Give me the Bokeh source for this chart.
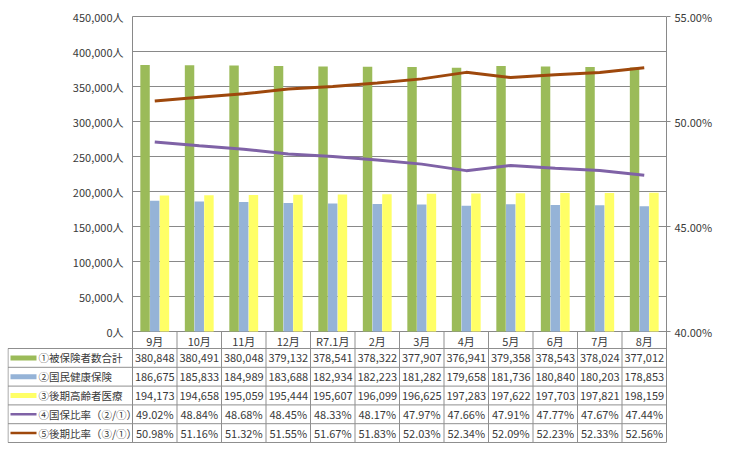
from bokeh.plotting import figure
from bokeh.models import Range1d, LinearAxis, FixedTicker, CustomJSTickFormatter, ColumnDataSource
from bokeh.transform import dodge
from bokeh.core.properties import value
from bokeh.embed import file_html
from bokeh.resources import INLINE

# ---------------- data ----------------
categories = ["9月", "10月", "11月", "12月", "R7.1月", "2月", "3月", "4月", "5月", "6月", "7月", "8月"]
total = [380848, 380491, 380048, 379132, 378541, 378322, 377907, 376941, 379358, 378543, 378024, 377012]
kokuho = [186675, 185833, 184989, 183688, 182934, 182223, 181282, 179658, 181736, 180840, 180203, 178853]
kouki = [194173, 194658, 195059, 195444, 195607, 196099, 196625, 197283, 197622, 197703, 197821, 198159]
kokuho_ratio = [49.02, 48.84, 48.68, 48.45, 48.33, 48.17, 47.97, 47.66, 47.91, 47.77, 47.67, 47.44]
kouki_ratio = [50.98, 51.16, 51.32, 51.55, 51.67, 51.83, 52.03, 52.34, 52.09, 52.23, 52.33, 52.56]
series_names = ["①被保険者数合計", "②国民健康保険", "③後期高齢者医療", "④国保比率（②/①）", "⑤後期比率（③/①）"]
left_ticks = [0, 50000, 100000, 150000, 200000, 250000, 300000, 350000, 400000, 450000]
right_ticks = [40, 45, 50, 55]
Y_MAX = 450000
P_MIN, P_MAX = 40, 55

# ---------------- style / layout ----------------
GREEN = "#9BBB59"
BLUE = "#95B3D7"
YELLOW = "#FFFF66"
PURPLE = "#7F62A6"
BROWN = "#9E480C"
GRID = "#898989"
TXT = "#3a3a3a"
FONT_NAME = "Noto Sans CJK JP"
FONT = value(FONT_NAME)

W, H = 722, 446
LB = 7             # border left of the table
TOP = 6            # border above the frame
EXTRA_TOP = 10     # px of frame above the 450,000 line (room for tick label)
RB = 56            # border right of the plot area (right axis)
LEG_W = 125        # width of the table's legend column
N = len(categories)
PLOT_W = W - LB - LEG_W - RB     # 534 px for the 12 categories
CW = PLOT_W / N                  # px per category
PLOT_H = 315                     # px of the chart area
TABLE_H = 111                    # px of the data table below
EXTRA_BOT = 2
FRAME_H = EXTRA_TOP + PLOT_H + TABLE_H + EXTRA_BOT
PX = Y_MAX / PLOT_H              # value per pixel on left scale
PPX = (P_MAX - P_MIN) / PLOT_H   # value per pixel on right scale


def below(px):
    """y value (left scale) that lies px pixels under the zero line"""
    return -px * PX


x_left = -LEG_W / CW
p = figure(width=W, height=H,
           x_range=Range1d(x_left, N),
           y_range=Range1d(below(TABLE_H + EXTRA_BOT), Y_MAX + EXTRA_TOP * PX),
           output_backend="svg", toolbar_location=None,
           x_axis_location=None, y_axis_location=None,
           min_border_left=LB, min_border_right=RB, min_border_top=TOP,
           min_border_bottom=H - TOP - FRAME_H)
p.grid.visible = False
p.outline_line_color = None
p.background_fill_color = "white"
p.border_fill_color = "white"
p.extra_y_ranges = {"pct": Range1d(P_MIN - (TABLE_H + EXTRA_BOT) * PPX, P_MAX + EXTRA_TOP * PPX)}

# right axis (percent); its line also forms the table's right border
ra = LinearAxis(y_range_name="pct", ticker=FixedTicker(ticks=right_ticks),
                formatter=CustomJSTickFormatter(code="return tick.toFixed(2) + '%';"),
                bounds=(P_MIN - TABLE_H * PPX, P_MAX))
ra.axis_line_color = GRID
ra.major_tick_line_color = GRID
ra.major_tick_out = 4
ra.major_tick_in = 0
ra.minor_tick_line_color = None
ra.major_label_standoff = 4
ra.major_label_text_font = FONT_NAME
ra.major_label_text_font_size = "11px"
ra.major_label_text_color = TXT
p.add_layout(ra, "right")

# horizontal gridlines + left axis line
p.segment(x0=[0] * len(left_ticks), x1=[N] * len(left_ticks), y0=left_ticks, y1=left_ticks,
          line_color=GRID, line_width=1)
p.segment(x0=[0], x1=[0], y0=[below(TABLE_H)], y1=[Y_MAX], line_color=GRID, line_width=1)

# left tick labels
left_labels = [f"{v:,}人" for v in left_ticks]
p.text(x=[-9 / CW] * len(left_ticks), y=left_ticks, text=left_labels,
       text_align="right", text_baseline="middle",
       text_font=FONT, text_font_size="11px", text_color=TXT)

# bars and lines
xs = [i + 0.5 for i in range(N)]
src = ColumnDataSource(dict(x=xs, total=total, kokuho=kokuho, kouki=kouki,
                            r1=kokuho_ratio, r2=kouki_ratio))
BW = 0.212
OFF = 0.218
p.vbar(x=dodge("x", -OFF), top="total", width=BW, fill_color=GREEN, line_color=None, source=src)
p.vbar(x=dodge("x", 0), top="kokuho", width=BW, fill_color=BLUE, line_color=None, source=src)
p.vbar(x=dodge("x", OFF), top="kouki", width=BW, fill_color=YELLOW, line_color=None, source=src)
p.line(x="x", y="r1", y_range_name="pct", line_width=3, line_color=PURPLE, source=src)
p.line(x="x", y="r2", y_range_name="pct", line_width=3, line_color=BROWN, source=src)

# ---------------- data table ----------------
TABLE_GRID = "#8f8f8f"
CAT_H = 17
RH = (TABLE_H - CAT_H) / 5
rows = len(series_names)
row_px = [CAT_H + k * RH for k in range(rows + 1)]
row_y = [below(v) for v in row_px]
mid_y = [below((row_px[k] + row_px[k + 1]) / 2) for k in range(rows)]
x_tab = x_left + 0.5 / CW

# category row
p.text(x=xs, y=[below(CAT_H / 2 + 0.5)] * N, text=categories, text_align="center",
       text_baseline="middle", text_font=FONT, text_font_size="11px", text_color=TXT)
# column separators
seps = list(range(1, N))
p.segment(x0=seps, x1=seps, y0=[0] * len(seps), y1=[row_y[-1]] * len(seps),
          line_color=TABLE_GRID, line_width=1)
p.segment(x0=[x_tab], x1=[x_tab], y0=[row_y[0]], y1=[row_y[-1]], line_color=TABLE_GRID, line_width=1)
# row lines
p.segment(x0=[x_tab] * len(row_y), x1=[N] * len(row_y), y0=row_y, y1=row_y,
          line_color=TABLE_GRID, line_width=1)

# legend keys
key_x = x_left + 16 / CW
p.rect(x=[key_x] * 3, y=mid_y[:3], width=26 / CW, height=5 * PX,
       fill_color=[GREEN, BLUE, YELLOW], line_color=None)
p.segment(x0=[x_left + 3 / CW] * 2, x1=[x_left + 29 / CW] * 2, y0=mid_y[3:], y1=mid_y[3:],
          line_color=[PURPLE, BROWN], line_width=2.5)
p.text(x=[x_left + 31 / CW] * rows, y=mid_y, text=series_names, text_align="left",
       text_baseline="middle", text_font=FONT, text_font_size="10.5px", text_color=TXT)

series_vals = [
    [f"{v:,}" for v in total],
    [f"{v:,}" for v in kokuho],
    [f"{v:,}" for v in kouki],
    [f"{v:.2f}%" for v in kokuho_ratio],
    [f"{v:.2f}%" for v in kouki_ratio],
]
tx, ty, tt = [], [], []
for r in range(rows):
    for c in range(N):
        tx.append(xs[c])
        ty.append(mid_y[r])
        tt.append(series_vals[r][c])
p.text(x=tx, y=ty, text=tt, text_align="center", text_baseline="middle",
       text_font=FONT, text_font_size="11px", text_color=TXT)

open("out.html", "w").write(file_html(p, INLINE))
